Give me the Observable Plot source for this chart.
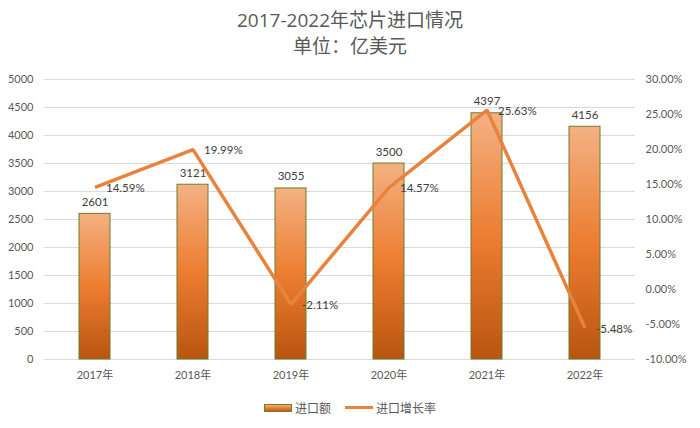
<!DOCTYPE html>
<html>
<head>
<meta charset="utf-8">
<script src="https://cdn.jsdelivr.net/npm/d3@7"></script>
<script src="https://cdn.jsdelivr.net/npm/@observablehq/plot@0.6"></script>
<style>
  html, body { margin: 0; padding: 0; background: #fff; }
  body { width: 700px; height: 428px; overflow: hidden; font-family: Lato, "Noto Sans CJK SC", sans-serif; }
  #title { height: 62px; text-align: center; color: #595959; font-size: 19px; line-height: 26px; padding-top: 7px; box-sizing: border-box; font-family: "Open Sans", "Noto Sans CJK SC", sans-serif; }
  #legend { display: flex; justify-content: center; align-items: center; gap: 14px; font-size: 12px; color: #595959; margin-top: 7px; margin-left: 0px; }
  .item { display: flex; align-items: center; gap: 3px; }
  .sw-bar { width: 28px; height: 8px; background: linear-gradient(#f4b183, #ed7d31, #c55a11); border: 1px solid #6b7f2a; box-sizing: border-box; }
  .sw-line { width: 28px; height: 3px; background: #e8833e; }
</style>
</head>
<body>
<div id="title">2017-2022年芯片进口情况<br>单位：亿美元</div>
<div id="chart"></div>
<div id="legend">
  <div class="item"><div class="sw-bar"></div><span>进口额</span></div>
  <div class="item"><div class="sw-line"></div><span>进口增长率</span></div>
</div>
<script>
const years = ["2017年", "2018年", "2019年", "2020年", "2021年", "2022年"];
const amounts = [2601, 3121, 3055, 3500, 4397, 4156];
const growth = [14.59, 19.99, -2.11, 14.57, 25.63, -5.48];
const leftTicks = [0, 500, 1000, 1500, 2000, 2500, 3000, 3500, 4000, 4500, 5000];
const rightTicks = [-10, -5, 0, 5, 10, 15, 20, 25, 30];

// map percentage onto the left (amount) scale: -10% -> 0, 30% -> 5000
const pctToY = p => (p + 10) * 125;
const yToPct = v => v / 125 - 10;

const data = years.map((y, i) => ({ year: y, amount: amounts[i], growth: growth[i], gy: pctToY(growth[i]) }));

const plot = Plot.plot({
  width: 700,
  height: 330,
  marginTop: 17,
  marginBottom: 33,
  marginLeft: 44,
  marginRight: 65,
  style: { fontFamily: 'Lato, "Noto Sans CJK SC", sans-serif', fontSize: "11px", color: "#595959", background: "#fff" },
  x: { domain: years, paddingInner: 0.685, paddingOuter: 0.3425, label: null },
  y: { domain: [0, 5000], label: null },
  marks: [
    Plot.gridY(leftTicks, { stroke: "#d9d9d9", strokeOpacity: 1 }),
    Plot.axisY(leftTicks, { anchor: "left", tickSize: 0, tickPadding: 11, label: null, fill: "#595959", tickFormat: d => String(d) }),
    Plot.axisY(rightTicks.map(pctToY), { anchor: "right", tickSize: 0, tickPadding: 10, label: null, fill: "#595959", textAnchor: "start", tickFormat: d => yToPct(d).toFixed(2) + "%" }),
    Plot.axisX({ tickSize: 0, tickPadding: 12, label: null, fill: "#595959" }),
    Plot.barY(data, { x: "year", y: "amount", fill: "url(#barGrad)", stroke: "#6b7f2a", strokeWidth: 1 }),
    Plot.text(data, { x: "year", y: "amount", text: d => String(d.amount), lineAnchor: "bottom", dy: -8, fill: "#404040", fontSize: 11.5 }),
    Plot.line(data, { x: "year", y: "gy", stroke: "#e8833e", strokeWidth: 3.5, strokeLinejoin: "miter", strokeLinecap: "butt" }),
    Plot.text(data, { x: "year", y: "gy", text: d => d.growth.toFixed(2) + "%", textAnchor: "start", dx: 11, dy: 1, fill: "#404040", fontSize: 11.5 })
  ]
});

// gradient definition for bars
const svg = d3.select(plot);
const defs = svg.insert("defs", ":first-child");
const g = defs.append("linearGradient").attr("id", "barGrad").attr("x1", 0).attr("y1", 0).attr("x2", 0).attr("y2", 1);
g.append("stop").attr("offset", "0%").attr("stop-color", "#f4b183");
g.append("stop").attr("offset", "50%").attr("stop-color", "#ed7d31");
g.append("stop").attr("offset", "100%").attr("stop-color", "#b9550f");

document.getElementById("chart").appendChild(plot);
</script>
</body>
</html>
